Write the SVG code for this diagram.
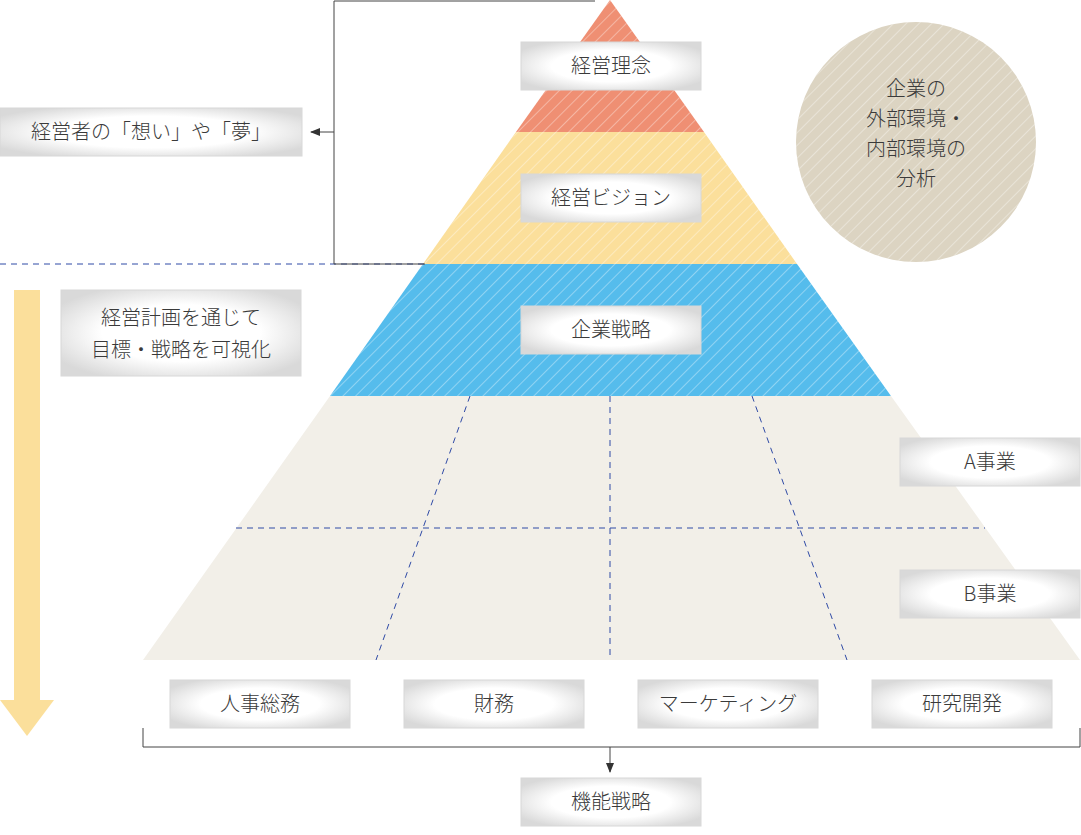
<svg xmlns="http://www.w3.org/2000/svg" width="1081" height="835" viewBox="0 0 1081 835">
<defs>
<pattern id="hatch" width="9" height="9" patternUnits="userSpaceOnUse" patternTransform="rotate(45)">
<rect width="9" height="9" fill="none"/><line x1="0" y1="0" x2="0" y2="9" stroke="#fff" stroke-opacity="0.35" stroke-width="2"/>
</pattern>
<radialGradient id="glow" cx="0.5" cy="0.5" r="0.6">
<stop offset="0.55" stop-color="#ffffff"/><stop offset="1" stop-color="#d9d9d9"/>
</radialGradient>
<marker id="ah" markerWidth="10" markerHeight="8" refX="9" refY="4" orient="auto" markerUnits="userSpaceOnUse">
<path d="M0,0 L10,4 L0,8 Z" fill="#333"/>
</marker>
</defs>
<style>
.box{fill:url(#glow);stroke:#d8d8d8;stroke-width:1}
.t{font-family:"Noto Sans CJK JP","Noto Sans",sans-serif;font-size:20px;fill:#3a3a3a;text-anchor:middle;font-weight:300}
.dash{stroke:#2f4aa6;stroke-width:1;stroke-dasharray:6,5;fill:none}
.ln{stroke:#444;stroke-width:1;fill:none}
</style>
<g id="pyramid">
<polygon points="610,0 704,132 516,132" fill="#ef8f73"/>
<polygon points="516,132 704,132 797,264 423,264" fill="#fbdf9b"/>
<polygon points="423,264 797,264 891,396 330,396" fill="#55bcec"/>
<polygon points="330,396 891,396 1080,660 143,660" fill="#f2efe8"/>
<polygon points="610,0 891,396 330,396" fill="url(#hatch)"/>
</g>
<g id="circle">
<circle cx="916" cy="142" r="120" fill="#dcd4c2"/>
<circle cx="916" cy="142" r="120" fill="url(#hatch)"/>
<text class="t" x="916" y="96">企業の</text>
<text class="t" x="916" y="126">外部環境・</text>
<text class="t" x="916" y="156">内部環境の</text>
<text class="t" x="916" y="186">分析</text>
</g>
<g id="connectors">
<line class="dash" x1="0" y1="264" x2="425" y2="264"/>
<line class="dash" x1="236" y1="528" x2="985" y2="528"/>
<line class="dash" x1="470" y1="396" x2="376" y2="660"/>
<line class="dash" x1="610" y1="396" x2="610" y2="660"/>
<line class="dash" x1="752" y1="396" x2="847" y2="660"/>
<polyline class="ln" points="595,1 334,1 334,264 425,264"/>
<line class="ln" x1="334" y1="132" x2="311" y2="132" marker-end="url(#ah)"/>
<polyline class="ln" points="143,728 143,747 1080,747 1080,728"/>
<line class="ln" x1="610" y1="747" x2="610" y2="772" marker-end="url(#ah)"/>
<rect x="14" y="290" width="26" height="410" fill="#fbdf9b"/>
<polygon points="0,700 54,700 27,736" fill="#fbdf9b"/>
</g>
<g id="n1"><rect class="box" x="521" y="42" width="180" height="48"/><text class="t" x="611" y="73">経営理念</text></g>
<g id="n2"><rect class="box" x="521" y="174" width="180" height="48"/><text class="t" x="611" y="205">経営ビジョン</text></g>
<g id="n3"><rect class="box" x="521" y="306" width="180" height="48"/><text class="t" x="611" y="337">企業戦略</text></g>
<g id="n4"><rect class="box" x="0" y="108" width="302" height="48"/><text class="t" x="151" y="139">経営者の「想い」や「夢」</text></g>
<g id="n5"><rect class="box" x="61" y="290" width="240" height="86"/><text class="t" x="181" y="325">経営計画を通じて</text><text class="t" x="181" y="357">目標・戦略を可視化</text></g>
<g id="n6"><rect class="box" x="900" y="438" width="180" height="48"/><text class="t" x="990" y="469">A事業</text></g>
<g id="n7"><rect class="box" x="900" y="570" width="180" height="48"/><text class="t" x="990" y="601">B事業</text></g>
<g id="n8"><rect class="box" x="170" y="680" width="180" height="48"/><text class="t" x="260" y="711">人事総務</text></g>
<g id="n9"><rect class="box" x="404" y="680" width="180" height="48"/><text class="t" x="494" y="711">財務</text></g>
<g id="n10"><rect class="box" x="638" y="680" width="180" height="48"/><text class="t" x="728" y="711">マーケティング</text></g>
<g id="n11"><rect class="box" x="872" y="680" width="180" height="48"/><text class="t" x="962" y="711">研究開発</text></g>
<g id="n12"><rect class="box" x="521" y="778" width="180" height="48"/><text class="t" x="611" y="809">機能戦略</text></g>
</svg>
